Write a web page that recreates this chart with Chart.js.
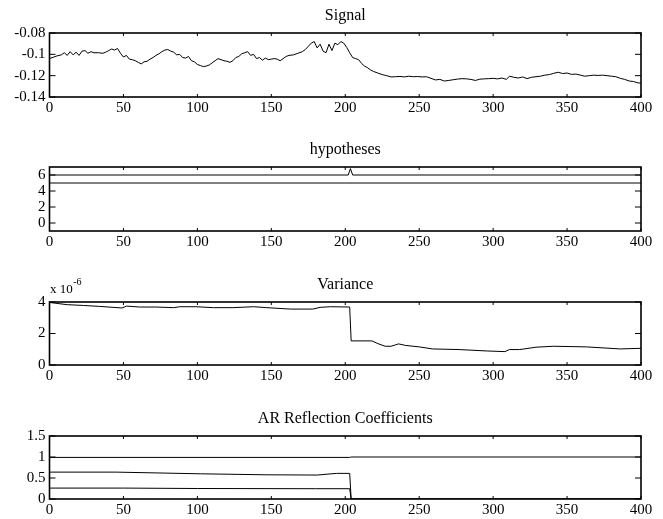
<!DOCTYPE html>
<html>
<head>
<meta charset="utf-8">
<script src="https://cdn.jsdelivr.net/npm/chart.js@4.4.0/dist/chart.umd.min.js"></script>
<style>
  html, body { margin: 0; padding: 0; background: #fff; }
  #wrap { position: relative; width: 663px; height: 519px; }
  #wrap canvas { position: absolute; left: 0; }
</style>
</head>
<body>
<div id="wrap">
  <canvas id="cSignal"></canvas>
  <canvas id="cHyp"></canvas>
  <canvas id="cVar"></canvas>
  <canvas id="cAR"></canvas>
</div>
<script>
// shared sample axis
const xTicks = [0, 50, 100, 150, 200, 250, 300, 350, 400];
const xTickLabels = ['0', '50', '100', '150', '200', '250', '300', '350', '400'];

// signal
const sigX = [
  0, 3, 5, 8, 10, 12, 14, 16, 18, 20,
  22, 24, 26, 28, 30, 33, 36, 38, 40, 42,
  44, 46, 48, 50, 52, 54, 56, 58, 60, 62,
  64, 66, 68, 70, 72, 74, 76, 78, 80, 82,
  84, 86, 88, 90, 92, 94, 96, 98, 100, 102,
  104, 106, 108, 110, 112, 114, 116, 118, 120, 122,
  124, 126, 128, 130, 132, 134, 136, 138, 140, 142,
  144, 146, 148, 150, 152, 154, 156, 158, 160, 162,
  165, 168, 171, 173, 175, 177, 179, 181, 183, 185,
  187, 189, 191, 193, 195, 197, 199, 201, 203, 205,
  207, 209, 211, 213, 215, 217, 219, 222, 225, 228,
  231, 234, 237, 240, 243, 246, 249, 252, 255, 258,
  261, 264, 267, 270, 273, 276, 279, 282, 285, 288,
  291, 294, 297, 300, 303, 306, 309, 311, 314, 317,
  320, 323, 326, 329, 332, 335, 338, 341, 344, 347,
  350, 353, 356, 359, 362, 365, 368, 371, 374, 377,
  380, 383, 386, 389, 392, 395, 398, 400
];
const sigY = [
  -0.1040, -0.1025, -0.1015, -0.1005, -0.0985, -0.1010, -0.0975, -0.1005, -0.0980, -0.1010,
  -0.0970, -0.0965, -0.0990, -0.0975, -0.0985, -0.0985, -0.0990, -0.0980, -0.0965, -0.0950,
  -0.0960, -0.0945, -0.0990, -0.1025, -0.1010, -0.1045, -0.1050, -0.1060, -0.1075, -0.1090,
  -0.1070, -0.1065, -0.1045, -0.1030, -0.1010, -0.0995, -0.0975, -0.0960, -0.0955, -0.0970,
  -0.0980, -0.1005, -0.1000, -0.1030, -0.1035, -0.1020, -0.1060, -0.1070, -0.1095, -0.1105,
  -0.1115, -0.1110, -0.1100, -0.1080, -0.1060, -0.1040, -0.1050, -0.1060, -0.1065, -0.1075,
  -0.1060, -0.1030, -0.1020, -0.0995, -0.0985, -0.0975, -0.1010, -0.1000, -0.1040, -0.1030,
  -0.1055, -0.1035, -0.1050, -0.1045, -0.1040, -0.1045, -0.1060, -0.1040, -0.1020, -0.1010,
  -0.1005, -0.0990, -0.0975, -0.0955, -0.0925, -0.0895, -0.0880, -0.0940, -0.0905, -0.0970,
  -0.0985, -0.0905, -0.0965, -0.0895, -0.0910, -0.0880, -0.0895, -0.0935, -0.0985, -0.1030,
  -0.1040, -0.1050, -0.1085, -0.1110, -0.1125, -0.1145, -0.1160, -0.1175, -0.1190, -0.1200,
  -0.1212, -0.1210, -0.1207, -0.1212, -0.1205, -0.1210, -0.1208, -0.1212, -0.1210, -0.1225,
  -0.1240, -0.1235, -0.1250, -0.1245, -0.1238, -0.1232, -0.1228, -0.1230, -0.1235, -0.1245,
  -0.1233, -0.1230, -0.1228, -0.1225, -0.1230, -0.1222, -0.1235, -0.1205, -0.1215, -0.1222,
  -0.1212, -0.1228, -0.1215, -0.1210, -0.1205, -0.1195, -0.1190, -0.1178, -0.1168, -0.1180,
  -0.1175, -0.1188, -0.1185, -0.1195, -0.1205, -0.1200, -0.1195, -0.1198, -0.1195, -0.1200,
  -0.1205, -0.1210, -0.1225, -0.1235, -0.1250, -0.1255, -0.1268, -0.1270
];
const sigTicks = [-0.14, -0.12, -0.1, -0.08];
const sigTickLabels = ['-0.14', '-0.12', '-0.1', '-0.08'];

// hypotheses
const hypAX = [0, 202, 203.5, 205, 400];
const hypAY = [6, 6, 6.8, 6, 6];
const hypBX = [0, 400];
const hypBY = [5, 5];
const hypTicks = [0, 2, 4, 6];
const hypTickLabels = ['0', '2', '4', '6'];

// variance
const varX = [0, 12, 23, 34, 43, 49, 52, 61, 72, 84, 88, 99, 111, 124, 138, 147, 163, 178, 183, 190,
  203, 204, 218, 222, 227, 231, 234, 236, 241, 250, 259, 277, 296, 308, 311, 318, 329, 341, 363, 386, 400];
const varY = [3.97e-6, 3.83e-6, 3.78e-6, 3.72e-6, 3.66e-6, 3.62e-6, 3.74e-6, 3.68e-6, 3.68e-6, 3.64e-6,
  3.70e-6, 3.70e-6, 3.64e-6, 3.64e-6, 3.70e-6, 3.64e-6, 3.55e-6, 3.55e-6, 3.66e-6, 3.70e-6,
  3.68e-6, 1.53e-6, 1.53e-6, 1.36e-6, 1.19e-6, 1.19e-6, 1.28e-6, 1.34e-6, 1.24e-6, 1.15e-6,
  1.02e-6, 0.98e-6, 0.89e-6, 0.85e-6, 0.98e-6, 0.98e-6, 1.13e-6, 1.19e-6, 1.15e-6, 1.02e-6, 1.06e-6];
const varTicks = [0, 2e-6, 4e-6];
const varTickLabels = ['0', '2', '4'];

// AR reflection coefficients
const ar1X = [0, 203, 204, 400];
const ar1Y = [0.99, 0.99, 1.0, 1.0];
const ar2X = [0, 45, 102, 147, 181, 194, 203, 204, 400];
const ar2Y = [0.64, 0.64, 0.60, 0.576, 0.57, 0.61, 0.61, 0, 0];
const ar3X = [0, 50, 100, 180, 203, 204, 400];
const ar3Y = [0.26, 0.26, 0.25, 0.245, 0.245, 0, 0];
const arTicks = [0, 0.5, 1, 1.5];
const arTickLabels = ['0', '0.5', '1', '1.5'];

/* layout */
const PAD_TOP = 34;     // room for the title above each box
const X_AXIS_H = 22;    // strip holding the x tick labels
const Y_AXIS_W = 49.5;
const RIGHT_PAD = 22;
const FONT = '"Liberation Serif", "Times New Roman", serif';

Chart.defaults.font.family = FONT;
Chart.defaults.font.size = 15;
Chart.defaults.color = '#000';
Chart.defaults.animation = false;

const series = (xs, ys) => xs.map((x, i) => ({ x, y: ys[i] }));
const lineDs = (xs, ys) => ({
  data: series(xs, ys),
  borderColor: '#000',
  borderWidth: 1,
  pointRadius: 0,
  tension: 0,
  fill: false
});

// box, inward tick marks, title and optional exponent label
const framePlugin = {
  id: 'frame',
  afterDraw(chart, args, opts) {
    const { ctx, chartArea: a, scales } = chart;
    ctx.save();
    ctx.strokeStyle = '#000';
    ctx.lineWidth = 1;
    ctx.beginPath();
    scales.y.ticks.forEach(t => {
      const y = scales.y.getPixelForValue(t.value);
      ctx.moveTo(a.left, y); ctx.lineTo(a.left + 6, y);
      ctx.moveTo(a.right, y); ctx.lineTo(a.right - 6, y);
    });
    scales.x.ticks.forEach(t => {
      const x = scales.x.getPixelForValue(t.value);
      ctx.moveTo(x, a.top); ctx.lineTo(x, a.top + 3);
      ctx.moveTo(x, a.bottom); ctx.lineTo(x, a.bottom - 3);
    });
    ctx.stroke();

    ctx.lineWidth = 1.6;
    ctx.strokeRect(a.left, a.top, a.right - a.left, a.bottom - a.top);

    ctx.fillStyle = '#000';
    ctx.font = '16px ' + FONT;
    ctx.textAlign = 'center';
    ctx.textBaseline = 'alphabetic';
    ctx.fillText(opts.title, (a.left + a.right) / 2, a.top - 13.5);

    if (opts.exponent) {
      ctx.textAlign = 'left';
      ctx.font = '13px ' + FONT;
      const base = 'x 10';
      ctx.fillText(base, a.left + 0.5, a.top - 9.5);
      const w = ctx.measureText(base).width;
      ctx.font = '10px ' + FONT;
      ctx.fillText(opts.exponent, a.left + 1 + w, a.top - 17);
    }
    ctx.restore();
  }
};

function makePanel(id, areaTop, areaH, datasets, yMin, yMax, yTicks, yLabels, title, exponent) {
  const canvas = document.getElementById(id);
  canvas.width = 663;
  canvas.height = Math.round(PAD_TOP + areaH + X_AXIS_H);
  canvas.style.top = (areaTop - PAD_TOP) + 'px';

  return new Chart(canvas.getContext('2d'), {
    type: 'line',
    data: { datasets },
    options: {
      responsive: false,
      layout: { padding: { top: PAD_TOP, right: RIGHT_PAD, bottom: 0, left: 0 } },
      plugins: {
        legend: { display: false },
        tooltip: { enabled: false },
        frame: { title, exponent }
      },
      scales: {
        x: {
          type: 'linear', min: 0, max: 400,
          grid: { display: false, drawTicks: false, tickLength: 0 }, border: { display: false },
          afterBuildTicks: s => { s.ticks = xTicks.map(v => ({ value: v })); },
          afterFit: s => { s.height = X_AXIS_H; },
          ticks: { autoSkip: false, maxRotation: 0, padding: 2, callback: (v, i) => xTickLabels[i] }
        },
        y: {
          type: 'linear', min: yMin, max: yMax,
          grid: { display: false, drawTicks: false, tickLength: 0 }, border: { display: false },
          afterBuildTicks: s => { s.ticks = yTicks.map(v => ({ value: v })); },
          afterFit: s => { s.width = Y_AXIS_W; },
          ticks: { padding: 4, callback: (v, i) => yLabels[i] }
        }
      }
    },
    plugins: [framePlugin]
  });
}

makePanel('cSignal', 33.3, 64.4, [lineDs(sigX, sigY)],
  -0.14, -0.08, sigTicks, sigTickLabels, 'Signal');
makePanel('cHyp', 167.3, 64, [lineDs(hypAX, hypAY), lineDs(hypBX, hypBY)],
  -1, 7, hypTicks, hypTickLabels, 'hypotheses');
makePanel('cVar', 301.7, 63.3, [lineDs(varX, varY)],
  0, 4e-6, varTicks, varTickLabels, 'Variance', '-6');
makePanel('cAR', 436, 63.3, [lineDs(ar1X, ar1Y), lineDs(ar2X, ar2Y), lineDs(ar3X, ar3Y)],
  0, 1.5, arTicks, arTickLabels, 'AR Reflection Coefficients');
</script>
</body>
</html>
